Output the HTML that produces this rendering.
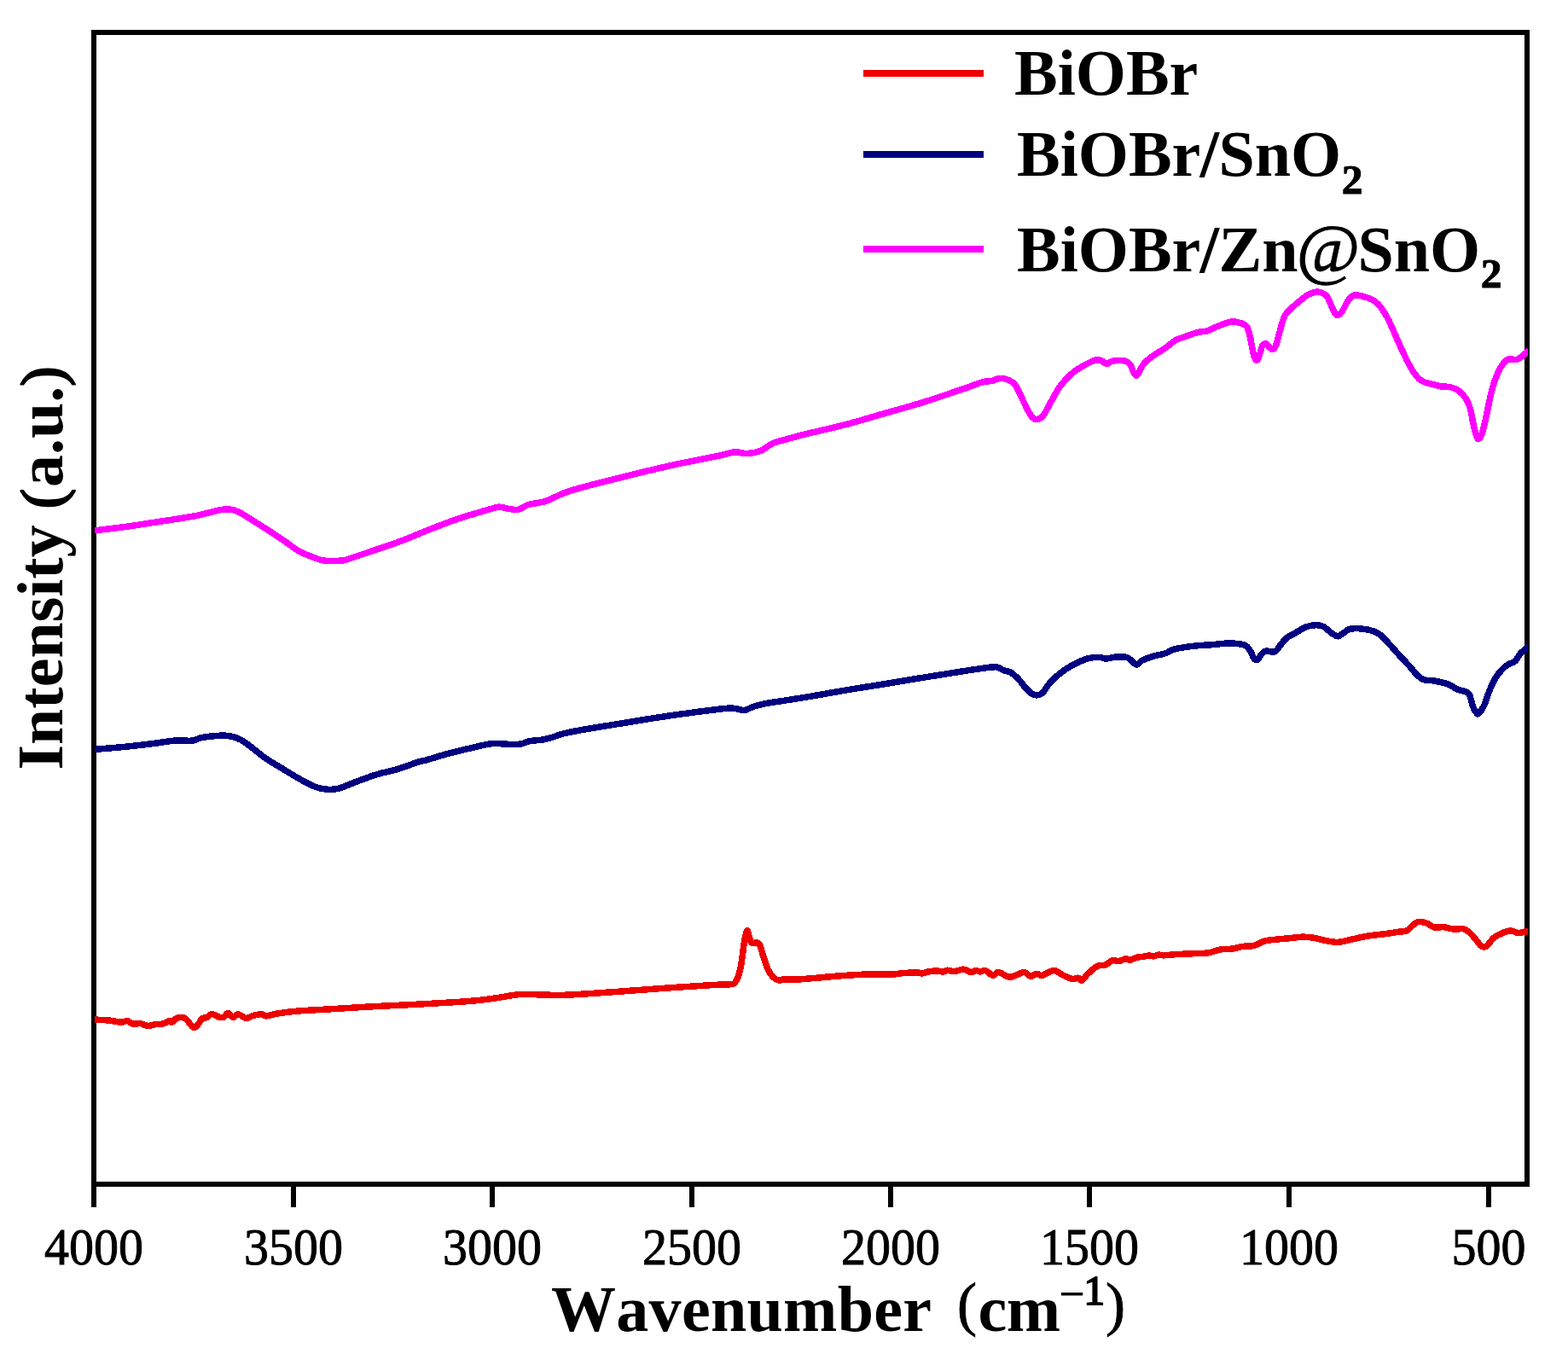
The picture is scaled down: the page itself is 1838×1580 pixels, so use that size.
<!DOCTYPE html>
<html lang="en">
<head>
<meta charset="utf-8">
<title>FTIR spectra</title>
<style>
html,body{margin:0;padding:0;background:#fff;}
body{width:1838px;height:1580px;overflow:hidden;}
svg{display:block;}
.b{font-family:"Liberation Serif","DejaVu Serif",serif;font-weight:bold;fill:#000;font-kerning:none;}
.sl{font-weight:normal;stroke:#000;stroke-width:2.2px;}
.sub{font-size:49.5px;stroke:#000;stroke-width:1px;}
.at{font-weight:normal;font-size:81px;text-anchor:middle;stroke:#000;stroke-width:0.9px;}
.par{font-weight:normal;font-size:69px;text-anchor:middle;stroke:#000;stroke-width:0.9px;}
.yp{font-weight:normal;font-size:70px;letter-spacing:2px;stroke:#000;stroke-width:2.2px;stroke-linejoin:round;}
.sup{font-size:52px;text-anchor:middle;font-weight:normal;stroke:#000;stroke-width:1.1px;}
.t{font-family:"Liberation Serif","DejaVu Serif",serif;font-weight:normal;fill:#000;font-size:58px;text-anchor:middle;font-kerning:none;stroke:#000;stroke-width:0.9px;}
.c{fill:none;stroke-width:7.5;stroke-linejoin:round;stroke-linecap:butt;shape-rendering:crispEdges;}
</style>
</head>
<body>
<svg width="1838" height="1580" viewBox="0 0 1838 1580">
<defs><clipPath id="ax"><rect x="111" y="41" width="1680" height="1344"/></clipPath></defs>
<rect x="0" y="0" width="1838" height="1580" fill="#fff"/>
<!-- frame -->
<rect x="110" y="38" width="1680" height="1350" fill="none" stroke="#000" stroke-width="6" shape-rendering="crispEdges"/>
<g stroke="#000" stroke-width="6" fill="none" shape-rendering="crispEdges">
<line x1="110.00" y1="1388" x2="110.00" y2="1415"/>
<line x1="344.00" y1="1388" x2="344.00" y2="1415"/>
<line x1="577.00" y1="1388" x2="577.00" y2="1415"/>
<line x1="811.00" y1="1388" x2="811.00" y2="1415"/>
<line x1="1044.00" y1="1388" x2="1044.00" y2="1415"/>
<line x1="1277.00" y1="1388" x2="1277.00" y2="1415"/>
<line x1="1511.00" y1="1388" x2="1511.00" y2="1415"/>
<line x1="1745.00" y1="1388" x2="1745.00" y2="1415"/>
</g>
<!-- curves -->
<g clip-path="url(#ax)">
<path class="c" stroke="#ee0000" d="M110.0,1195.0C110.3,1195.0 108.1,1194.9 111.4,1195.1C114.7,1195.3 123.1,1195.5 128.6,1196.1C134.1,1196.7 138.1,1198.1 141.9,1198.2C145.7,1198.3 147.1,1196.3 149.5,1196.6C151.9,1196.9 152.5,1199.5 155.2,1200.1C157.9,1200.7 161.4,1199.3 164.7,1199.7C168.0,1200.1 170.2,1202.2 173.3,1202.4C176.4,1202.6 178.6,1201.2 181.9,1200.8C185.2,1200.3 188.5,1200.7 191.4,1199.9C194.3,1199.1 196.2,1196.9 198.1,1196.6C200.0,1196.3 200.4,1198.7 201.9,1198.2C203.4,1197.7 204.7,1194.8 206.6,1193.8C208.5,1192.8 210.3,1192.4 212.4,1192.5C214.5,1192.6 216.0,1192.8 218.1,1194.4C220.2,1196.0 222.1,1199.6 223.8,1201.4C225.5,1203.2 226.1,1204.8 227.6,1204.6C229.1,1204.4 230.6,1202.4 232.3,1200.5C234.0,1198.6 235.2,1195.2 237.1,1193.8C239.0,1192.4 240.7,1193.4 242.8,1192.5C244.9,1191.6 245.7,1188.7 248.5,1188.7C251.3,1188.7 255.5,1191.9 258.1,1192.5C260.7,1193.1 261.2,1192.8 262.8,1191.9C264.4,1191.0 265.3,1187.4 267.2,1187.5C269.1,1187.6 271.2,1192.3 273.3,1192.5C275.4,1192.7 276.3,1188.5 279.0,1188.7C281.7,1188.9 285.4,1193.1 288.5,1193.4C291.6,1193.7 292.8,1191.4 296.1,1190.6C299.4,1189.8 303.7,1188.6 306.6,1188.7C309.5,1188.8 308.7,1191.1 312.3,1190.9C315.9,1190.7 320.2,1188.7 326.6,1187.7C333.0,1186.7 337.0,1186.1 347.6,1185.2C358.2,1184.3 371.9,1183.7 385.6,1182.9C399.3,1182.1 412.1,1181.2 423.7,1180.5C435.3,1179.8 436.9,1179.8 450.0,1179.1C463.1,1178.4 478.0,1177.9 496.6,1176.8C515.2,1175.7 537.9,1174.5 553.2,1173.2C568.5,1171.9 571.3,1171.2 581.5,1169.8C591.7,1168.4 599.6,1166.2 609.8,1165.5C620.0,1164.8 627.8,1166.0 638.0,1166.1C648.2,1166.2 651.0,1166.8 666.3,1166.1C681.6,1165.4 702.5,1163.8 722.9,1162.4C743.3,1161.0 759.1,1159.6 779.5,1158.2C799.9,1156.8 822.1,1155.3 836.1,1154.5C850.1,1153.7 852.6,1154.4 857.4,1153.6C862.2,1152.8 861.0,1152.1 862.6,1150.1C864.2,1148.1 865.0,1145.8 866.1,1142.3C867.2,1138.8 867.8,1135.8 868.7,1130.9C869.6,1126.0 870.1,1120.8 870.9,1115.3C871.7,1109.8 872.2,1104.9 873.1,1100.5C874.0,1096.1 874.8,1091.4 875.7,1090.9C876.6,1090.4 877.5,1095.6 878.3,1097.9C879.1,1100.2 879.2,1102.5 880.0,1103.9C880.8,1105.3 881.4,1105.5 882.7,1105.7C884.0,1105.9 885.6,1104.5 887.0,1104.8C888.4,1105.1 889.4,1105.5 890.5,1107.4C891.6,1109.3 892.0,1111.8 893.1,1115.3C894.2,1118.8 895.3,1122.8 896.6,1126.6C897.9,1130.4 898.7,1133.2 900.1,1136.2C901.5,1139.2 902.7,1141.0 904.4,1143.1C906.1,1145.2 907.7,1146.8 909.6,1147.9C911.5,1149.0 913.3,1149.0 914.9,1149.0C916.5,1149.0 914.5,1148.1 918.3,1147.9C922.1,1147.7 929.5,1148.1 935.8,1147.9C942.1,1147.7 946.9,1147.1 953.2,1146.6C959.5,1146.1 962.4,1145.7 970.6,1145.0C978.8,1144.3 990.5,1143.4 999.0,1142.9C1007.5,1142.4 1009.5,1142.2 1018.1,1142.0C1026.7,1141.8 1039.7,1142.2 1046.6,1142.0C1053.5,1141.8 1051.1,1141.2 1056.2,1140.8C1061.3,1140.4 1070.8,1139.9 1075.2,1139.9C1079.6,1139.9 1078.5,1141.2 1080.9,1141.0C1083.3,1140.8 1085.4,1139.4 1088.5,1138.9C1091.6,1138.4 1095.0,1138.0 1098.1,1138.0C1101.2,1138.0 1103.5,1139.2 1105.7,1139.1C1107.9,1139.0 1108.0,1137.3 1110.4,1137.2C1112.8,1137.1 1115.6,1138.8 1119.0,1138.6C1122.4,1138.4 1126.1,1135.9 1129.5,1136.1C1132.9,1136.3 1135.5,1139.2 1138.1,1139.5C1140.7,1139.8 1141.7,1137.7 1143.8,1137.6C1145.9,1137.5 1147.4,1138.9 1149.5,1138.9C1151.6,1138.9 1152.6,1136.8 1155.2,1137.6C1157.8,1138.4 1161.1,1143.0 1163.8,1143.3C1166.5,1143.6 1167.0,1139.2 1170.4,1139.5C1173.8,1139.8 1179.0,1144.6 1182.8,1145.2C1186.6,1145.8 1188.1,1143.9 1191.4,1142.9C1194.7,1141.9 1198.0,1139.2 1200.9,1139.5C1203.8,1139.8 1205.0,1144.0 1207.6,1144.3C1210.2,1144.6 1212.6,1141.6 1215.2,1141.4C1217.8,1141.2 1218.2,1144.0 1221.8,1143.3C1225.4,1142.6 1230.7,1137.6 1235.2,1137.6C1239.7,1137.6 1242.7,1141.5 1246.6,1143.3C1250.5,1145.1 1254.0,1147.0 1257.1,1147.5C1260.2,1148.0 1261.6,1145.9 1263.7,1146.2C1265.8,1146.5 1266.4,1149.9 1268.5,1149.0C1270.6,1148.1 1271.9,1144.4 1275.2,1141.4C1278.5,1138.4 1282.8,1134.2 1286.6,1132.3C1290.4,1130.4 1293.0,1132.1 1296.1,1130.9C1299.2,1129.7 1301.0,1126.6 1303.7,1125.8C1306.4,1125.0 1308.5,1126.9 1311.3,1126.6C1314.1,1126.3 1316.6,1124.2 1319.0,1123.9C1321.4,1123.6 1322.3,1125.5 1324.7,1125.2C1327.1,1124.9 1329.8,1122.9 1332.5,1122.2C1335.2,1121.5 1337.0,1121.9 1339.6,1121.5C1342.2,1121.1 1344.4,1120.2 1346.7,1120.1C1349.0,1120.0 1350.3,1121.0 1352.3,1120.8C1354.3,1120.6 1355.9,1119.3 1358.0,1119.1C1360.1,1118.9 1360.1,1119.9 1363.7,1119.8C1367.3,1119.7 1371.4,1119.1 1377.8,1118.7C1384.2,1118.3 1392.1,1118.0 1399.0,1117.7C1405.9,1117.4 1410.4,1117.7 1416.0,1116.9C1421.6,1116.1 1425.0,1113.9 1430.1,1113.0C1435.2,1112.1 1439.7,1112.7 1444.3,1112.1C1448.9,1111.5 1451.0,1110.2 1455.6,1109.5C1460.2,1108.8 1465.0,1109.6 1469.8,1108.4C1474.6,1107.2 1477.4,1104.2 1482.5,1102.9C1487.6,1101.6 1492.7,1101.6 1498.0,1101.0C1503.3,1100.4 1507.1,1100.1 1512.2,1099.6C1517.3,1099.1 1521.7,1098.3 1526.3,1098.2C1530.9,1098.1 1533.6,1098.3 1537.7,1098.9C1541.8,1099.5 1546.0,1100.7 1549.0,1101.3C1552.0,1101.9 1550.6,1101.9 1554.1,1102.5C1557.6,1103.1 1563.2,1104.6 1568.3,1104.4C1573.4,1104.2 1576.3,1102.8 1582.4,1101.5C1588.5,1100.2 1594.5,1098.6 1602.2,1097.3C1609.9,1096.0 1618.3,1095.4 1624.9,1094.5C1631.5,1093.6 1634.7,1092.9 1639.0,1092.3C1643.3,1091.7 1645.8,1092.3 1648.9,1090.9C1652.0,1089.5 1653.4,1086.5 1656.0,1084.6C1658.6,1082.7 1660.0,1080.7 1663.1,1080.3C1666.2,1079.9 1669.7,1081.2 1673.0,1082.4C1676.3,1083.6 1677.9,1086.2 1681.5,1087.0C1685.1,1087.8 1688.7,1086.3 1692.8,1086.7C1696.9,1087.1 1700.0,1088.7 1704.1,1089.1C1708.2,1089.5 1712.1,1088.1 1715.4,1088.8C1718.7,1089.5 1719.9,1090.8 1722.5,1093.0C1725.1,1095.2 1727.3,1098.1 1729.6,1100.8C1731.9,1103.5 1733.4,1106.2 1735.2,1107.9C1737.0,1109.6 1738.0,1110.0 1739.5,1110.0C1741.0,1110.0 1741.7,1109.8 1743.7,1107.9C1745.7,1106.0 1747.7,1101.9 1750.8,1099.4C1753.9,1096.9 1757.1,1095.3 1760.7,1093.8C1764.3,1092.3 1767.3,1091.0 1770.6,1090.9C1773.9,1090.8 1776.3,1093.2 1779.1,1093.5C1781.9,1093.8 1783.8,1092.7 1786.1,1092.3C1788.4,1091.9 1790.9,1091.6 1792.0,1091.5"/>
<path class="c" stroke="#000080" d="M110.0,878.5C110.3,878.5 105.0,879.0 111.4,878.4C117.8,877.8 133.4,876.6 145.7,875.4C158.0,874.2 169.3,872.8 180.0,871.5C190.7,870.2 196.9,868.7 205.1,868.1C213.3,867.5 219.9,868.8 225.7,868.1C231.5,867.4 230.1,865.5 237.1,864.4C244.1,863.3 256.7,861.9 264.5,862.2C272.3,862.5 275.2,863.9 280.5,866.3C285.8,868.7 288.9,871.5 294.2,875.4C299.5,879.3 304.0,883.7 310.2,888.0C316.4,892.3 321.1,894.9 328.5,899.4C335.9,903.9 344.0,909.0 351.4,913.1C358.8,917.2 363.9,920.1 369.7,922.3C375.5,924.5 378.5,924.9 383.4,925.2C388.3,925.5 390.5,925.9 397.1,924.1C403.7,922.3 411.7,918.4 419.9,915.4C428.1,912.4 434.6,909.9 442.8,907.4C451.0,904.9 457.4,904.2 465.6,901.7C473.8,899.2 482.3,895.7 488.5,893.7C494.7,891.7 493.8,892.5 500.0,890.8C506.2,889.1 514.7,886.2 522.9,884.0C531.1,881.8 537.5,880.3 545.7,878.3C553.9,876.3 562.4,874.2 568.6,873.0C574.8,871.8 575.1,871.5 580.0,871.4C584.9,871.3 590.7,872.2 596.0,872.3C601.3,872.4 605.2,872.7 609.7,872.1C614.2,871.5 616.2,869.7 621.1,868.7C626.0,867.7 632.2,867.7 637.1,866.8C642.0,865.9 644.4,865.1 648.5,863.9C652.6,862.7 653.8,861.5 660.0,860.0C666.2,858.5 670.5,857.6 682.8,855.4C695.1,853.2 712.0,850.6 728.5,847.9C745.0,845.2 757.7,843.0 774.2,840.5C790.7,838.0 805.9,835.9 819.9,834.1C833.9,832.3 844.1,830.9 851.9,830.3C859.7,829.7 859.6,830.3 863.3,830.7C867.0,831.1 868.8,833.0 872.5,832.5C876.2,832.0 879.4,829.4 883.9,828.0C888.4,826.6 891.1,825.8 897.6,824.6C904.1,823.4 911.3,822.5 920.0,821.1C928.7,819.7 932.8,819.2 945.7,817.0C958.6,814.8 974.9,811.8 991.4,809.0C1007.9,806.2 1020.6,804.4 1037.1,801.7C1053.6,799.0 1066.3,796.8 1082.8,794.1C1099.3,791.4 1116.2,788.7 1128.5,786.8C1140.8,784.9 1144.4,784.3 1151.4,783.4C1158.4,782.5 1162.9,781.4 1167.4,781.8C1171.9,782.2 1173.2,784.5 1176.5,785.7C1179.8,786.9 1182.3,786.6 1185.6,788.7C1188.9,790.8 1191.9,794.1 1194.8,797.1C1197.7,800.1 1199.1,802.8 1201.6,805.6C1204.1,808.4 1206.1,810.7 1208.5,812.4C1210.9,814.1 1212.4,815.0 1214.9,814.9C1217.4,814.8 1219.2,814.8 1222.2,812.0C1225.2,809.2 1227.7,803.5 1231.4,799.4C1235.1,795.3 1238.3,792.6 1242.8,789.1C1247.3,785.6 1250.7,783.1 1256.5,780.0C1262.3,776.9 1269.0,773.7 1274.8,772.0C1280.6,770.3 1284.5,770.4 1288.5,770.4C1292.5,770.4 1293.3,772.1 1296.9,772.0C1300.5,771.9 1304.1,770.3 1308.3,770.0C1312.5,769.7 1317.2,769.6 1320.5,770.4C1323.8,771.2 1324.4,773.0 1326.6,774.6C1328.8,776.2 1330.5,779.2 1332.7,779.1C1334.9,779.0 1335.5,775.8 1338.8,774.1C1342.1,772.4 1346.0,771.0 1350.9,769.5C1355.8,768.0 1361.8,767.2 1366.2,765.7C1370.6,764.2 1371.2,762.6 1375.3,761.3C1379.4,760.0 1383.8,759.4 1389.0,758.6C1394.2,757.8 1398.8,757.2 1404.3,756.7C1409.8,756.2 1414.0,756.2 1419.5,755.8C1425.0,755.4 1430.0,754.6 1434.7,754.3C1439.4,754.0 1441.0,753.6 1445.4,754.0C1449.8,754.4 1455.5,754.8 1459.1,756.3C1462.7,757.8 1463.3,759.7 1465.2,762.4C1467.1,765.1 1468.3,769.5 1469.8,771.5C1471.3,773.5 1472.1,774.2 1473.6,773.5C1475.1,772.8 1476.3,769.6 1478.1,767.7C1479.9,765.8 1480.6,763.8 1483.5,763.1C1486.4,762.4 1491.1,765.0 1494.1,763.9C1497.1,762.8 1497.7,759.9 1500.2,757.0C1502.7,754.1 1504.6,750.6 1507.9,747.9C1511.2,745.2 1514.4,744.1 1518.5,741.8C1522.6,739.5 1526.3,736.5 1530.7,734.9C1535.1,733.3 1539.2,732.8 1542.9,732.7C1546.6,732.6 1548.0,732.8 1551.3,734.5C1554.6,736.2 1558.1,740.2 1561.2,742.2C1564.3,744.2 1565.7,745.9 1568.3,745.8C1570.9,745.7 1572.9,743.0 1575.4,741.5C1577.9,740.0 1578.6,738.1 1582.4,737.3C1586.2,736.5 1591.5,736.5 1596.6,737.0C1601.7,737.5 1606.6,738.6 1610.7,740.1C1614.8,741.6 1615.6,742.0 1619.2,745.1C1622.8,748.2 1626.4,752.7 1630.5,757.1C1634.6,761.5 1637.8,765.3 1641.9,769.8C1646.0,774.3 1649.9,778.2 1653.2,781.9C1656.5,785.6 1657.4,787.6 1660.2,790.3C1663.0,793.0 1664.9,795.3 1668.7,796.7C1672.5,798.1 1676.2,797.1 1681.5,798.1C1686.8,799.1 1693.6,800.6 1698.4,802.4C1703.2,804.2 1704.7,806.5 1708.3,808.0C1711.9,809.5 1715.6,809.7 1718.2,810.9C1720.8,812.1 1721.0,811.2 1722.5,814.4C1724.0,817.6 1725.3,824.8 1726.7,828.5C1728.1,832.2 1729.1,833.5 1730.3,834.9C1731.5,836.3 1731.4,837.7 1733.1,836.3C1734.8,834.9 1737.3,831.5 1739.5,827.1C1741.7,822.7 1742.8,817.2 1745.1,811.6C1747.4,806.0 1749.4,800.8 1752.2,796.0C1755.0,791.2 1757.9,787.8 1760.7,784.7C1763.5,781.6 1765.0,780.8 1767.8,779.0C1770.6,777.2 1773.7,777.1 1776.2,774.8C1778.7,772.5 1779.8,768.7 1781.9,766.3C1784.0,763.9 1785.8,762.8 1787.6,761.3C1789.4,759.8 1791.2,758.4 1792.0,757.8"/>
<path class="c" stroke="#ff00ff" d="M110.0,621.9C113.6,621.5 122.8,620.5 130.0,619.6C137.2,618.7 142.8,618.0 150.0,617.0C157.2,616.0 162.8,615.1 170.0,614.0C177.2,612.9 182.8,612.0 190.0,610.9C197.2,609.8 202.8,609.0 210.0,607.8C217.2,606.6 223.7,605.7 230.0,604.5C236.3,603.3 240.5,602.1 245.0,601.0C249.5,599.9 251.9,599.0 255.0,598.3C258.1,597.6 259.7,597.4 262.0,597.1C264.3,596.8 265.7,596.7 268.0,596.9C270.3,597.1 272.5,597.4 275.0,598.2C277.5,599.0 279.3,599.9 282.0,601.3C284.7,602.7 285.9,603.5 290.0,606.1C294.1,608.7 299.6,612.1 305.0,615.5C310.4,618.9 314.6,621.6 320.0,625.2C325.4,628.8 329.6,631.6 335.0,635.3C340.4,639.0 344.6,642.7 350.0,645.8C355.4,648.9 360.1,650.4 365.0,652.3C369.9,654.2 372.7,655.6 377.0,656.6C381.3,657.6 384.5,657.6 389.0,657.6C393.5,657.6 398.2,657.3 402.0,656.8C405.8,656.3 403.2,656.9 410.0,654.7C416.8,652.5 429.2,648.3 440.0,644.6C450.8,640.9 459.2,638.3 470.0,634.2C480.8,630.1 489.2,626.3 500.0,622.0C510.8,617.7 521.9,613.5 530.0,610.5C538.1,607.5 539.6,607.2 545.0,605.5C550.4,603.8 554.6,602.6 560.0,601.0C565.4,599.4 570.5,597.8 575.0,596.6C579.5,595.4 581.2,594.3 585.0,594.2C588.8,594.1 592.0,595.8 596.0,596.3C600.0,596.8 603.3,598.0 607.4,597.2C611.5,596.4 614.7,593.1 618.8,591.7C622.9,590.3 626.2,590.4 630.3,589.5C634.4,588.6 636.4,588.7 641.7,586.7C647.0,584.7 654.2,580.6 660.0,578.3C665.8,576.0 665.5,576.1 673.7,573.7C681.9,571.3 691.7,568.8 705.7,565.2C719.7,561.6 734.9,557.7 751.4,553.8C767.9,549.9 780.6,546.8 797.1,543.3C813.6,539.8 831.3,536.6 842.8,534.2C854.3,531.8 855.3,530.3 861.1,529.8C866.9,529.3 869.5,531.8 874.8,531.6C880.1,531.4 885.5,530.7 890.8,528.7C896.1,526.7 900.8,522.4 904.5,520.4C908.2,518.4 904.0,519.8 911.4,517.7C918.8,515.6 931.3,512.1 945.7,508.5C960.1,504.9 974.9,501.9 991.4,497.6C1007.9,493.3 1020.6,489.2 1037.1,484.5C1053.6,479.8 1066.3,476.4 1082.8,471.3C1099.3,466.2 1116.2,460.2 1128.5,456.0C1140.8,451.8 1145.2,449.7 1151.4,448.0C1157.6,446.3 1159.1,447.2 1162.8,446.4C1166.5,445.6 1168.6,443.7 1171.9,443.4C1175.2,443.1 1177.8,443.6 1181.1,445.0C1184.4,446.4 1186.9,447.0 1190.2,451.4C1193.5,455.8 1196.5,463.9 1199.4,469.7C1202.3,475.5 1204.1,479.8 1206.2,483.4C1208.3,487.0 1209.1,488.4 1210.8,489.8C1212.5,491.2 1213.3,491.7 1215.4,491.4C1217.5,491.1 1219.3,491.5 1222.2,488.0C1225.1,484.5 1227.7,478.4 1231.4,472.0C1235.1,465.6 1238.3,458.8 1242.8,452.6C1247.3,446.4 1251.6,442.0 1256.5,437.7C1261.4,433.4 1265.3,431.4 1270.2,428.6C1275.1,425.8 1280.2,423.3 1283.9,422.2C1287.6,421.1 1288.5,421.9 1290.8,422.6C1293.1,423.3 1294.3,426.2 1296.9,426.3C1299.5,426.4 1301.2,423.5 1305.2,422.9C1309.2,422.3 1315.3,422.4 1318.9,423.2C1322.5,424.0 1323.2,425.1 1325.0,427.5C1326.8,429.9 1327.4,434.4 1328.8,436.6C1330.2,438.9 1331.2,440.8 1332.7,440.0C1334.2,439.2 1335.6,434.8 1337.2,432.1C1338.8,429.4 1339.3,427.8 1341.8,425.2C1344.3,422.6 1346.5,420.8 1350.9,417.6C1355.3,414.5 1361.2,411.1 1366.2,407.7C1371.2,404.3 1374.3,400.9 1378.4,398.6C1382.5,396.3 1384.3,396.4 1389.0,394.7C1393.7,393.0 1399.6,390.6 1404.3,389.4C1409.0,388.2 1410.8,389.1 1414.9,387.9C1419.0,386.7 1422.2,384.5 1427.1,382.6C1432.0,380.7 1437.9,378.0 1442.3,377.2C1446.7,376.4 1448.2,377.2 1451.5,378.0C1454.8,378.8 1458.3,379.5 1460.6,381.8C1462.9,384.1 1463.0,386.0 1464.4,390.9C1465.8,395.8 1467.1,404.1 1468.2,409.2C1469.3,414.3 1469.5,416.8 1470.5,419.1C1471.5,421.4 1472.5,422.9 1473.6,422.2C1474.7,421.5 1475.5,418.3 1476.6,415.3C1477.7,412.3 1478.3,407.6 1479.7,405.4C1481.1,403.1 1482.7,402.5 1484.2,402.8C1485.7,403.1 1486.6,405.7 1488.0,406.9C1489.4,408.1 1490.5,409.9 1491.9,409.5C1493.3,409.1 1494.3,407.9 1495.7,404.6C1497.1,401.3 1497.9,396.6 1499.5,390.9C1501.1,385.2 1503.0,377.2 1504.8,372.7C1506.6,368.2 1506.4,369.1 1509.4,365.8C1512.4,362.5 1517.2,358.1 1521.6,354.4C1526.0,350.7 1529.9,347.4 1533.7,345.2C1537.5,343.0 1540.1,342.6 1542.9,342.2C1545.7,341.8 1546.7,342.0 1549.0,343.0C1551.3,344.0 1553.4,344.6 1555.6,347.6C1557.8,350.6 1559.4,355.9 1561.2,359.6C1563.0,363.3 1564.2,366.3 1565.5,368.1C1566.8,369.9 1566.9,370.0 1568.3,369.5C1569.7,369.0 1571.2,368.2 1573.2,365.3C1575.2,362.4 1577.4,356.5 1579.6,353.2C1581.8,349.9 1583.3,348.2 1585.3,346.9C1587.3,345.6 1588.1,345.6 1590.9,345.9C1593.7,346.2 1597.2,347.1 1600.8,348.3C1604.4,349.5 1607.4,350.2 1610.7,352.5C1614.0,354.8 1616.1,356.9 1619.2,361.0C1622.3,365.1 1624.1,368.1 1627.7,375.2C1631.3,382.3 1635.2,392.2 1639.0,400.6C1642.8,409.0 1645.8,415.8 1648.9,421.9C1652.0,428.0 1653.4,430.7 1656.0,434.6C1658.6,438.5 1660.6,441.4 1663.1,443.8C1665.6,446.2 1666.8,446.7 1670.1,448.0C1673.4,449.3 1677.9,450.0 1681.5,450.9C1685.1,451.8 1686.7,452.5 1690.0,453.0C1693.3,453.5 1696.3,452.8 1699.9,453.7C1703.5,454.6 1706.5,455.5 1709.8,457.9C1713.1,460.3 1715.8,463.4 1718.2,467.1C1720.6,470.8 1721.7,473.3 1723.2,478.4C1724.7,483.5 1725.4,489.8 1726.7,495.4C1728.0,501.0 1729.1,506.2 1730.3,509.6C1731.5,513.0 1732.0,514.5 1733.1,514.5C1734.2,514.5 1735.2,513.3 1736.6,509.6C1738.0,505.9 1739.1,501.6 1740.9,494.0C1742.7,486.4 1744.5,475.8 1746.5,467.1C1748.5,458.4 1749.9,452.5 1752.2,445.9C1754.5,439.3 1756.8,434.6 1759.3,430.3C1761.8,426.0 1764.0,423.6 1766.3,421.9C1768.6,420.2 1769.9,421.2 1772.0,421.1C1774.1,421.0 1775.7,422.1 1777.7,421.6C1779.7,421.1 1781.3,419.8 1783.3,418.3C1785.3,416.8 1787.4,414.7 1789.0,413.4C1790.6,412.1 1791.5,411.4 1792.0,411.0"/>
</g>
<!-- legend -->
<g stroke-width="8" fill="none" shape-rendering="crispEdges">
<line x1="1012" y1="85.8" x2="1153" y2="85.8" stroke="#ee0000"/>
<line x1="1012" y1="180.9" x2="1153" y2="180.9" stroke="#000080"/>
<line x1="1012" y1="292" x2="1153" y2="292" stroke="#ff00ff"/>
</g>
<g class="b" font-size="76px">
<text x="1189" y="110.6">BiOBr</text>
<text x="1192" y="206.2">BiOBr<tspan class="sl">/</tspan>SnO<tspan class="sub" dx="0.5" dy="20.3">2</tspan></text>
<text x="1192" y="317.8">BiOBr<tspan class="sl">/</tspan>Zn<tspan class="at" x="1557" y="318.5">@</tspan><tspan x="1591.5" y="317.8">SnO</tspan><tspan class="sub" dx="0.5" dy="19">2</tspan></text>
</g>
<!-- tick labels -->
<g class="t" transform="translate(0,1482) scale(1,1.05) translate(0,-1482)">
<text x="110.00" y="1482">4000</text>
<text x="344.00" y="1482">3500</text>
<text x="577.00" y="1482">3000</text>
<text x="811.00" y="1482">2500</text>
<text x="1044.00" y="1482">2000</text>
<text x="1277.00" y="1482">1500</text>
<text x="1511.00" y="1482">1000</text>
<text x="1745.00" y="1482">500</text>
</g>
<!-- axis labels -->
<g class="b" font-size="76px">
<text x="646" y="1560"><tspan letter-spacing="0.3">Wavenumber</tspan> <tspan class="par" x="1133.5" y="1551.5">(</tspan><tspan x="1146.5" y="1560" letter-spacing="-0.6">cm</tspan><tspan class="sup" x="1256.3" y="1534">−</tspan><tspan class="sup" x="1282.8" y="1529" style="font-size:49px;stroke-width:2px">1</tspan><tspan class="par" x="1307.6" y="1551.5">)</tspan></text>
<text transform="translate(73,902.5) rotate(-90)" x="0" y="0">Intensity <tspan class="yp">(</tspan>a.u.<tspan class="yp">)</tspan></text>
</g>
</svg>
</body>
</html>
